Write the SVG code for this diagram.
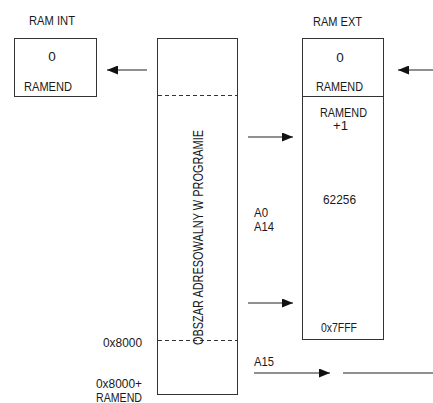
<svg xmlns="http://www.w3.org/2000/svg" width="433" height="403" viewBox="0 0 433 403">
<defs>
<marker id="ah" viewBox="0 0 11 9" refX="11" refY="4.5" markerWidth="11" markerHeight="9" markerUnits="userSpaceOnUse" orient="auto">
<path d="M0,0 L11,4.5 L0,9 Z" fill="#111"/>
</marker>
</defs>
<style>
text{font-family:"Liberation Sans",Arial,sans-serif;font-size:13.5px;fill:#1a1a1a}
.box{fill:none;stroke:#333;stroke-width:1}
.dash{stroke:#333;stroke-width:1;stroke-dasharray:4,3}
.ln{stroke:#222;stroke-width:1.2;fill:none}
.m{text-anchor:middle}
</style>
<rect width="433" height="403" fill="#fff"/>
<g id="ram-int">
<rect class="box" x="14.5" y="38.5" width="82" height="58"/>
<text x="29" y="25" textLength="46" lengthAdjust="spacingAndGlyphs">RAM INT</text>
<text class="m" x="52" y="61">0</text>
<text x="24" y="91" textLength="48" lengthAdjust="spacingAndGlyphs">RAMEND</text>
</g>
<g id="obszar">
<rect class="box" x="157.5" y="38.5" width="80" height="356"/>
<line class="dash" x1="158" y1="95.5" x2="237" y2="95.5"/>
<line class="dash" x1="158" y1="340.5" x2="237" y2="340.5"/>
<text transform="translate(203,345) rotate(-90)" textLength="215" lengthAdjust="spacingAndGlyphs" style="font-size:14.5px">OBSZAR ADRESOWALNY W PROGRAMIE</text>
</g>
<g id="ram-ext">
<rect class="box" x="302.5" y="38.5" width="81" height="301"/>
<line class="box" x1="302" y1="96.5" x2="384" y2="96.5"/>
<text x="313" y="25.5" textLength="49" lengthAdjust="spacingAndGlyphs">RAM EXT</text>
<text class="m" x="340" y="62">0</text>
<text x="316" y="91" textLength="47" lengthAdjust="spacingAndGlyphs">RAMEND</text>
<text x="320" y="117" textLength="47" lengthAdjust="spacingAndGlyphs">RAMEND</text>
<text x="333" y="130" textLength="15" lengthAdjust="spacingAndGlyphs">+1</text>
<text x="323" y="204" textLength="33" lengthAdjust="spacingAndGlyphs">62256</text>
<text x="321" y="332" textLength="36" lengthAdjust="spacingAndGlyphs">0x7FFF</text>
</g>
<g id="labels">
<text x="254" y="217" textLength="14" lengthAdjust="spacingAndGlyphs">A0</text>
<text x="254" y="231" textLength="20" lengthAdjust="spacingAndGlyphs">A14</text>
<text x="254" y="366" textLength="20" lengthAdjust="spacingAndGlyphs">A15</text>
<text x="103" y="347" textLength="39" lengthAdjust="spacingAndGlyphs">0x8000</text>
<text x="96" y="388" textLength="46" lengthAdjust="spacingAndGlyphs">0x8000+</text>
<text x="96" y="402" textLength="46" lengthAdjust="spacingAndGlyphs">RAMEND</text>
</g>
<g id="connectors">
<line class="ln" x1="147" y1="70" x2="107" y2="70" marker-end="url(#ah)"/>
<line class="ln" x1="433" y1="70" x2="398" y2="70" marker-end="url(#ah)"/>
<line class="ln" x1="248" y1="137" x2="293" y2="137" marker-end="url(#ah)"/>
<line class="ln" x1="248" y1="303" x2="293" y2="303" marker-end="url(#ah)"/>
<line class="ln" x1="254" y1="373" x2="330" y2="373" marker-end="url(#ah)"/>
<line class="ln" x1="343" y1="373" x2="433" y2="373"/>
</g>
</svg>
